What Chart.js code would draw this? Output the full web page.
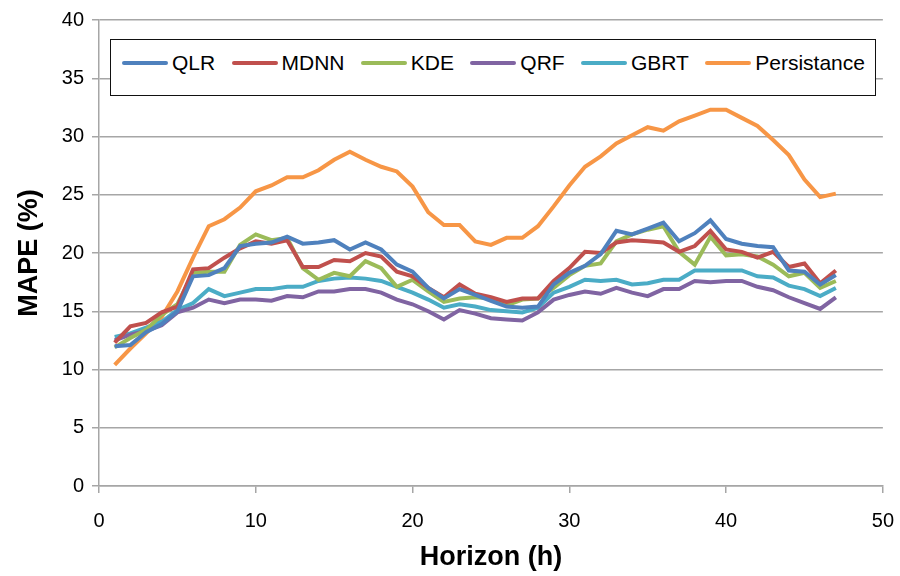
<!DOCTYPE html>
<html><head><meta charset="utf-8">
<script src="https://cdn.jsdelivr.net/npm/chart.js@4.4.1/dist/chart.umd.min.js"></script>
<style>
html,body{margin:0;padding:0;background:#fff;}
#wrap{position:relative;width:900px;height:576px;overflow:hidden;}
#c{position:absolute;left:0;top:0;}
#legend{position:absolute;left:110px;top:39px;width:766px;height:57px;box-sizing:border-box;border:1.5px solid #111;background:#fff;display:flex;align-items:center;justify-content:space-between;padding:0 10px 10px 11px;}
.item{display:flex;align-items:center;font-family:'Liberation Sans',Arial,sans-serif;font-size:21px;color:#000;white-space:nowrap;}
.sw{width:46px;height:4px;margin-right:4px;border-radius:2px;}
</style></head>
<body>
<div id="wrap">
<canvas id="c" width="900" height="576"></canvas>
<div id="legend"></div>
</div>
<script>
const horizons = [1,2,3,4,5,6,7,8,9,10,11,12,13,14,15,16,17,18,19,20,21,22,23,24,25,26,27,28,29,30,31,32,33,34,35,36,37,38,39,40,41,42,43,44,45,46,47];
const qlr = [12.0,12.1,13.2,13.9,15.0,18.0,18.1,18.7,20.6,20.8,20.9,21.4,20.8,20.9,21.1,20.3,20.9,20.3,19.0,18.4,17.0,16.1,16.9,16.4,15.9,15.4,15.3,15.4,17.3,18.3,18.9,19.9,21.9,21.6,22.1,22.6,21.0,21.7,22.8,21.2,20.8,20.6,20.5,18.5,18.4,17.3,18.1];
const mdnn = [12.3,13.7,14.0,14.9,15.4,18.6,18.7,19.6,20.4,21.0,20.8,21.1,18.8,18.8,19.4,19.3,20.0,19.7,18.4,18.0,17.0,16.2,17.3,16.5,16.2,15.8,16.1,16.1,17.6,18.7,20.1,20.0,20.9,21.1,21.0,20.9,20.1,20.6,21.9,20.3,20.1,19.6,20.1,18.8,19.1,17.4,18.5];
const kde = [11.9,12.7,13.4,14.7,15.6,18.3,18.4,18.4,20.7,21.6,21.1,21.3,18.7,17.7,18.3,18.0,19.3,18.7,17.1,17.7,16.7,15.8,16.1,16.2,16.1,15.5,16.0,16.1,17.0,18.1,18.9,19.1,21.0,21.6,22.0,22.3,20.1,19.0,21.4,19.8,19.9,19.7,19.0,18.0,18.3,17.0,17.6];
const qrf = [12.5,13.0,13.3,13.8,14.9,15.3,16.0,15.7,16.0,16.0,15.9,16.3,16.2,16.7,16.7,16.9,16.9,16.6,16.0,15.6,15.0,14.3,15.1,14.8,14.4,14.3,14.2,14.9,16.0,16.4,16.7,16.5,17.0,16.6,16.3,16.9,16.9,17.6,17.5,17.6,17.6,17.1,16.8,16.2,15.7,15.2,16.2];
const gbrt = [12.8,13.1,13.6,14.1,15.1,15.7,16.9,16.3,16.6,16.9,16.9,17.1,17.1,17.6,17.8,17.9,17.8,17.6,17.1,16.6,16.0,15.3,15.6,15.4,15.1,15.0,14.9,15.3,16.6,17.1,17.7,17.6,17.7,17.3,17.4,17.7,17.7,18.5,18.5,18.5,18.5,18.0,17.9,17.2,16.9,16.3,17.0];
const persistance = [10.4,11.8,13.1,14.5,16.7,19.6,22.3,22.9,23.9,25.3,25.8,26.5,26.5,27.1,28.0,28.7,28.0,27.4,27.0,25.7,23.5,22.4,22.4,21.0,20.7,21.3,21.3,22.3,24.0,25.8,27.4,28.3,29.4,30.1,30.8,30.5,31.3,31.8,32.3,32.3,31.6,30.9,29.7,28.4,26.3,24.8,25.1];
const seriesNames = ['QLR','MDNN','KDE','QRF','GBRT','Persistance'];
const seriesColors = ['#4F81BD','#C0504D','#9BBB59','#8064A2','#4BACC6','#F79646'];
const seriesValues = [qlr, mdnn, kde, qrf, gbrt, persistance];
const xTickLabels = [0,10,20,30,40,50];
const yTickLabels = [0,5,10,15,20,25,30,35,40];

const gridColor = '#a6a6a6';
const tickFont = {family:"'Liberation Sans', Arial, sans-serif", size:20};
const xTickFont = {family:"'Liberation Sans', Arial, sans-serif", size:20, lineHeight:2.2};
const titleFont = {family:"'Liberation Sans', Arial, sans-serif", size:27, weight:'bold'};

const datasets = seriesNames.map((name,i)=>({
  label:name,
  data: horizons.map((h,j)=>({x:h, y:seriesValues[i][j]})),
  borderColor: seriesColors[i],
  backgroundColor: seriesColors[i],
  borderWidth: 4,
  pointRadius: 0,
  tension: 0,
  fill: false
}));

new Chart(document.getElementById('c'), {
  type:'line',
  data:{datasets},
  options:{
    responsive:false,
    animation:false,
    layout:{padding:{left:0,right:16,top:20,bottom:0}},
    plugins:{legend:{display:false}, tooltip:{enabled:false}},
    scales:{
      x:{
        type:'linear', min:xTickLabels[0], max:xTickLabels[xTickLabels.length-1],
        afterBuildTicks:(s)=>{ s.ticks = xTickLabels.map(v=>({value:v})); },
        ticks:{font:xTickFont, color:'#000', padding:6, maxRotation:0},
        grid:{drawOnChartArea:false, drawTicks:true, tickLength:7, color:gridColor, lineWidth:1.5},
        border:{color:gridColor, width:1.5},
        title:{display:true, text:'Horizon (h)', font:titleFont, color:'#000', padding:{top:0,bottom:2}},
        afterFit:(s)=>{ s.height = 90; }
      },
      y:{
        min:yTickLabels[0], max:yTickLabels[yTickLabels.length-1],
        afterBuildTicks:(s)=>{ s.ticks = yTickLabels.map(v=>({value:v})); },
        ticks:{font:tickFont, color:'#000', padding:8},
        grid:{drawTicks:true, tickLength:7, color:gridColor, lineWidth:1.5},
        border:{color:gridColor, width:1.5},
        title:{display:true, text:'MAPE (%)', font:titleFont, color:'#000', padding:{top:13,bottom:0}},
        afterFit:(s)=>{ s.width = 99; }
      }
    }
  }
});

const leg = document.getElementById('legend');
seriesNames.forEach((name,i)=>{
  const it = document.createElement('div'); it.className='item';
  const sw = document.createElement('span'); sw.className='sw'; sw.style.background = seriesColors[i];
  const tx = document.createElement('span'); tx.textContent = name;
  it.appendChild(sw); it.appendChild(tx); leg.appendChild(it);
});
</script>
</body></html>
